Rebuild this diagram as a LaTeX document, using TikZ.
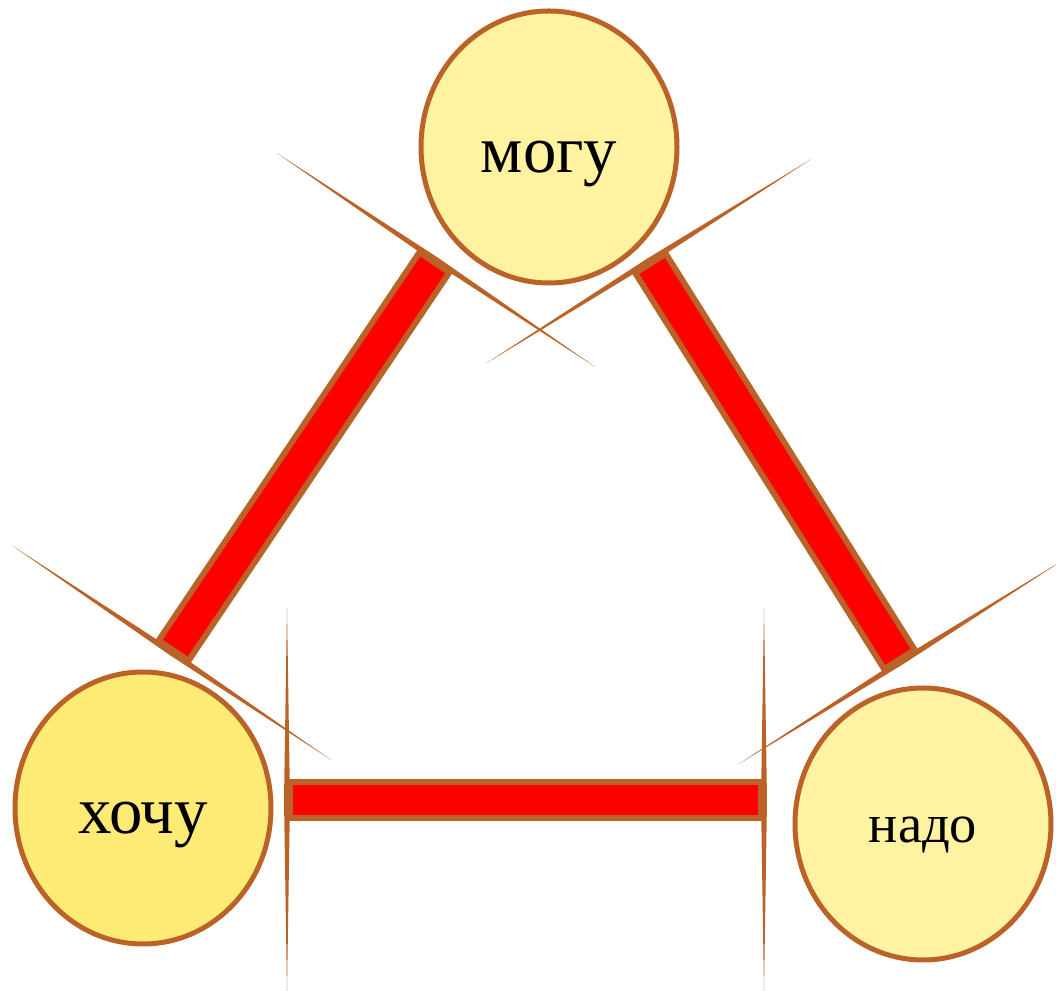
\documentclass[tikz,border=0pt]{standalone}
\usepackage{fontspec}
\setmainfont{Liberation Serif}
\usepackage{tikz}
\usetikzlibrary{
    positioning,
    calc,
    shapes.geometric
}
\definecolor{rimBrown}{RGB}{186, 98, 40}
\definecolor{paleYellow}{RGB}{255, 242, 160}
\definecolor{deepYellow}{RGB}{253, 235, 117}
\definecolor{barRed}{RGB}{255, 0, 0}

\begin{document}
\begin{tikzpicture}[
        ball/.style={ellipse, draw=rimBrown, line width=0.05cm, minimum width=2.56cm, minimum height=2.72cm, inner sep=0pt},
        bigword/.style={font=\fontsize{19}{22}\selectfont, text height=14.3pt, text depth=0pt},
        smallword/.style={font=\fontsize{15.5}{18}\selectfont, text height=10.6pt, text depth=0pt},
        barout/.style={draw=rimBrown, line width=0.42cm},
        barin/.style={draw=barRed, line width=0.30cm, shorten <=0.06cm, shorten >=0.06cm},
        ray/.style={fill=rimBrown}
    ]
            \useasboundingbox (0,0) rectangle (10.56,-9.91);

            \node[ball, fill=paleYellow, bigword] (mogu) at (5.49,-1.47) {могу};
            \node[ball, fill=deepYellow, bigword] (hochu) at (1.43,-8.08) {хочу};
            \node[ball, fill=paleYellow, smallword] (nado) at (9.23,-8.24) {надо};

            \coordinate (A1) at (1.72,-6.53); % near хочу
            \coordinate (A2) at (4.36,-2.60); % near могу
            \coordinate (B1) at (6.49,-2.61); % near могу
            \coordinate (B2) at (9.01,-6.62); % near надо
            \coordinate (C1) at (2.87,-8.00); % near хочу
            \coordinate (C2) at (7.64,-8.00); % near надо

            \foreach \p/\q in {A1/A2, B1/B2, C1/C2} {
                \draw[barout] (\p)--(\q);
                \draw[barin] (\p)--(\q);
            }

            \foreach \p/\q in {A1/A2, A2/A1, B1/B2, B2/B1, C1/C2, C2/C1}
                \fill[ray] ($(\p)!1.92cm!90:(\q)$) -- ($(\p)!0.03cm!(\q)$)
                    -- ($(\p)!1.92cm!-90:(\q)$) -- ($(\p)!-0.03cm!(\q)$) -- cycle;
        \end{tikzpicture}
\end{document}
